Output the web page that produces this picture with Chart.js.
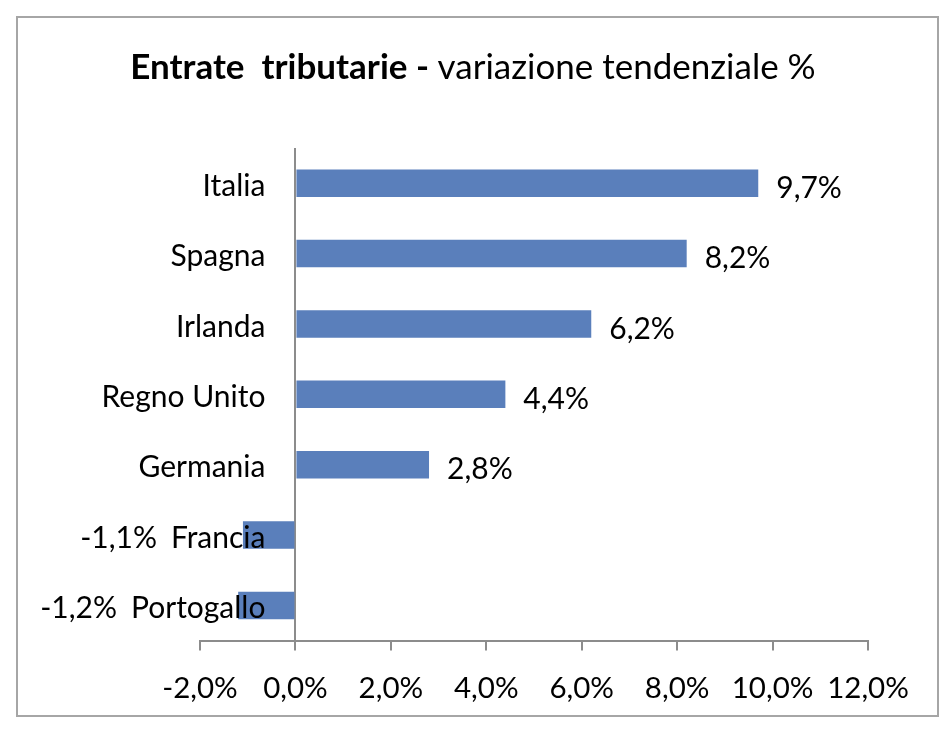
<!DOCTYPE html>
<html>
<head>
<meta charset="utf-8">
<script src="https://cdn.jsdelivr.net/npm/chart.js@4/dist/chart.umd.min.js"></script>
<style>
html,body{margin:0;padding:0;background:#fff;}
#wrap{position:relative;width:950px;height:732px;}
</style>
</head>
<body>
<div id="wrap"><canvas id="c" width="950" height="732"></canvas></div>
<script>
const categories = ["Italia", "Spagna", "Irlanda", "Regno Unito", "Germania", "Francia", "Portogallo"];
const values = [9.7, 8.2, 6.2, 4.4, 2.8, -1.1, -1.2];
const titleBold = "Entrate  tributarie - ";
const titleRegular = "variazione tendenziale %";
const xMin = -2, xMax = 12, xStep = 2;

const FONT = "Lato, 'Open Sans', sans-serif";
const fmt = v => v.toFixed(1).replace('.', ',') + '%';

const decor = {
  id: 'decor',
  beforeDraw(chart) {
    const ctx = chart.ctx;
    ctx.save();
    ctx.fillStyle = '#fff';
    ctx.fillRect(0, 0, chart.width, chart.height);
    ctx.strokeStyle = '#a6a6a6';
    ctx.lineWidth = 2;
    ctx.strokeRect(17, 17, 921, 699);
    // title
    ctx.fillStyle = '#000';
    ctx.textBaseline = 'middle';
    ctx.textAlign = 'left';
    const fb = "bold 35px " + FONT, fr = "35px " + FONT;
    ctx.font = fb; const wb = ctx.measureText(titleBold).width;
    ctx.font = fr; const wr = ctx.measureText(titleRegular).width;
    let x0 = 473 - (wb + wr) / 2;
    ctx.font = fb; ctx.fillText(titleBold, x0, 68);
    ctx.font = fr; ctx.fillText(titleRegular, x0 + wb, 68);
    ctx.restore();
  },
  afterDatasetsDraw(chart) {
    const ctx = chart.ctx;
    const xs = chart.scales.x, ys = chart.scales.y;
    const x0 = xs.getPixelForValue(0);
    ctx.save();
    ctx.fillStyle = '#000';
    ctx.font = "30px " + FONT;
    ctx.textBaseline = 'middle';
    categories.forEach((c, i) => {
      const y = ys.getPixelForValue(i);
      ctx.textAlign = 'right';
      const labelRight = x0 - 30;
      ctx.fillText(c, labelRight, y + 3);
      const v = values[i];
      if (v >= 0) {
        ctx.textAlign = 'left';
        ctx.fillText(fmt(v), xs.getPixelForValue(v) + 18, y + 5);
      } else {
        const w = ctx.measureText(c).width;
        ctx.textAlign = 'right';
        ctx.fillText(fmt(v), labelRight - w - 14, y + 3);
      }
    });
    ctx.restore();
  }
};

new Chart(document.getElementById('c'), {
  type: 'bar',
  data: {
    labels: categories,
    datasets: [{
      data: values,
      backgroundColor: '#5A7FBB',
      borderWidth: 0,
      barPercentage: 0.39,
      categoryPercentage: 1.0
    }]
  },
  options: {
    indexAxis: 'y',
    responsive: false,
    animation: false,
    devicePixelRatio: 1,
    layout: { padding: { left: 200, right: 82, top: 148, bottom: 6 } },
    plugins: { legend: { display: false }, tooltip: { enabled: false }, title: { display: false } },
    scales: {
      x: {
        min: xMin, max: xMax,
        ticks: { stepSize: xStep, callback: v => fmt(v), color: '#000', font: { family: FONT, size: 29.5 }, padding: 20, maxRotation: 0, autoSkip: false },
        grid: {
          color: c => (c.tick && c.tick.value === 0) ? '#8c8c8c' : 'transparent',
          tickColor: '#8c8c8c',
          tickLength: 10,
          lineWidth: 2,
          drawOnChartArea: true
        },
        border: { display: true, color: '#8c8c8c', width: 2 }
      },
      y: { display: false }
    }
  },
  plugins: [decor]
});
</script>
</body>
</html>
